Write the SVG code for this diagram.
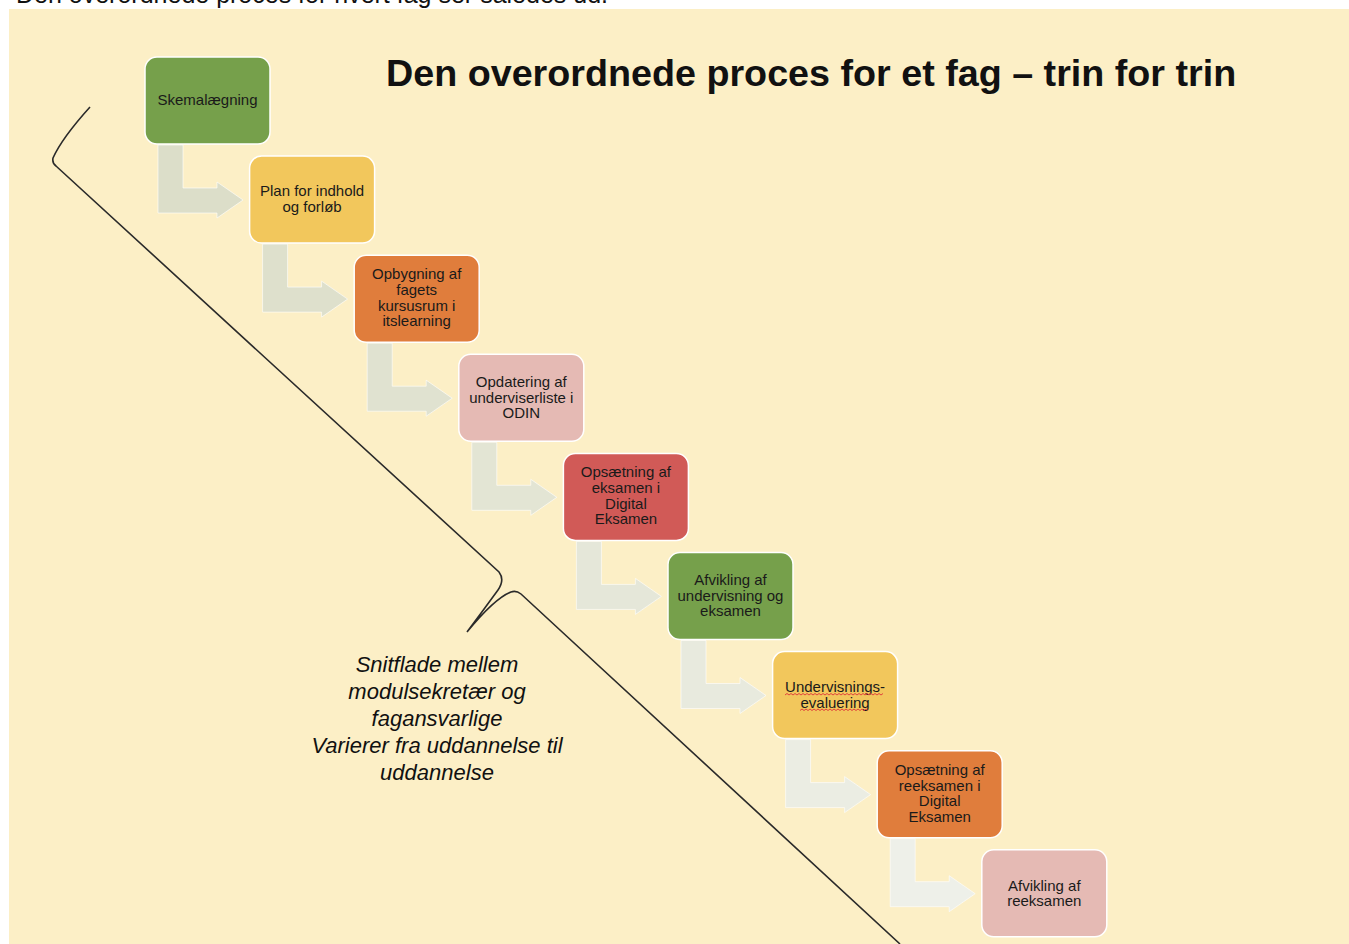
<svg xmlns="http://www.w3.org/2000/svg" width="1349" height="944" viewBox="0 0 1349 944">
<style>
.box{stroke:#ffffff;stroke-width:1.5}
.green{fill:#76A04B}.yellow{fill:#F2C75C}.orange{fill:#E07D3C}.pink{fill:#E5BAB4}.red{fill:#D15A57}
.lbl{font-family:"Liberation Sans",Arial,sans-serif;font-size:15px;fill:#1a1a1a;text-anchor:middle}
.arrow{stroke:#ffffff;stroke-width:1;stroke-opacity:0.6}
.note{font-family:"Liberation Sans",Arial,sans-serif;font-size:22px;font-style:italic;fill:#111;text-anchor:middle}
.squig{fill:none;stroke:#E0443C;stroke-width:1}
</style>
<rect x="0" y="0" width="1349" height="944" fill="#ffffff"/>
<text x="16" y="3" font-family="Liberation Sans, Arial, sans-serif" font-size="25" fill="#111">Den overordnede proces for hvert fag ser således ud.</text>
<rect x="9" y="9" width="1340" height="935" fill="#FCEFC6"/>
<text x="386" y="86" font-family="Liberation Sans, Arial, sans-serif" font-size="37.7" font-weight="bold" fill="#111">Den overordnede proces for et fag – trin for trin</text>

<g id="connectors">
<polygon class="arrow" fill="#DCDEC9" points="158,145 183,145 183,188 217,188 217,182 243,200 217,218 217,213 158,213"/>
<polygon class="arrow" fill="#DEE0CC" points="262.6,244.1 287.6,244.1 287.6,287.1 321.6,287.1 321.6,281.1 347.6,299.1 321.6,317.1 321.6,312.1 262.6,312.1"/>
<polygon class="arrow" fill="#E0E2D0" points="367.2,343.2 392.2,343.2 392.2,386.2 426.2,386.2 426.2,380.2 452.2,398.2 426.2,416.2 426.2,411.2 367.2,411.2"/>
<polygon class="arrow" fill="#E3E5D4" points="471.8,442.3 496.8,442.3 496.8,485.3 530.8,485.3 530.8,479.3 556.8,497.3 530.8,515.3 530.8,510.3 471.8,510.3"/>
<polygon class="arrow" fill="#E5E7D9" points="576.4,541.4 601.4,541.4 601.4,584.4 635.4,584.4 635.4,578.4 661.4,596.4 635.4,614.4 635.4,609.4 576.4,609.4"/>
<polygon class="arrow" fill="#E8EADE" points="681,640.5 706,640.5 706,683.5 740,683.5 740,677.5 766,695.5 740,713.5 740,708.5 681,708.5"/>
<polygon class="arrow" fill="#EBEDE3" points="785.6,739.6 810.6,739.6 810.6,782.6 844.6,782.6 844.6,776.6 870.6,794.6 844.6,812.6 844.6,807.6 785.6,807.6"/>
<polygon class="arrow" fill="#EEF0E9" points="890.2,838.7 915.2,838.7 915.2,881.7 949.2,881.7 949.2,875.7 975.2,893.7 949.2,911.7 949.2,906.7 890.2,906.7"/>
</g>

<path id="brace" d="M90,107 Q62,138 53,158 Q52,163 56,166 L499,572 Q505,580 498,590 Q482,612 467,632 Q495,598 511,592 Q516,590 521,594 L900,944" fill="none" stroke="#2a2a2a" stroke-width="1.6"/>

<g id="n1"><rect class="box green" x="145" y="57" width="125" height="87" rx="12"/><text class="lbl" x="207.5" y="105">Skemalægning</text></g>
<g id="n2"><rect class="box yellow" x="249.6" y="156.1" width="125" height="87" rx="12"/><text class="lbl" x="312.1" y="196">Plan for indhold</text><text class="lbl" x="312.1" y="212">og forløb</text></g>
<g id="n3"><rect class="box orange" x="354.2" y="255.2" width="125" height="87" rx="12"/><text class="lbl" x="416.7" y="279">Opbygning af</text><text class="lbl" x="416.7" y="295">fagets</text><text class="lbl" x="416.7" y="310.5">kursusrum i</text><text class="lbl" x="416.7" y="326">itslearning</text></g>
<g id="n4"><rect class="box pink" x="458.8" y="354.3" width="125" height="87" rx="12"/><text class="lbl" x="521.3" y="387">Opdatering af</text><text class="lbl" x="521.3" y="402.5">underviserliste i</text><text class="lbl" x="521.3" y="418">ODIN</text></g>
<g id="n5"><rect class="box red" x="563.4" y="453.4" width="125" height="87" rx="12"/><text class="lbl" x="625.9" y="477">Opsætning af</text><text class="lbl" x="625.9" y="493">eksamen i</text><text class="lbl" x="625.9" y="508.5">Digital</text><text class="lbl" x="625.9" y="524">Eksamen</text></g>
<g id="n6"><rect class="box green" x="668" y="552.5" width="125" height="87" rx="12"/><text class="lbl" x="730.5" y="585">Afvikling af</text><text class="lbl" x="730.5" y="600.5">undervisning og</text><text class="lbl" x="730.5" y="616">eksamen</text></g>
<g id="n7"><rect class="box yellow" x="772.6" y="651.6" width="125" height="87" rx="12"/><text class="lbl" x="835.1" y="692">Undervisnings-</text><text class="lbl" x="835.1" y="707.5">evaluering</text>
<path class="squig" d="M785,695 l2,-1.5 l2,1.5 l2,-1.5 l2,1.5 l2,-1.5 l2,1.5 l2,-1.5 l2,1.5 l2,-1.5 l2,1.5 l2,-1.5 l2,1.5 l2,-1.5 l2,1.5 l2,-1.5 l2,1.5 l2,-1.5 l2,1.5 l2,-1.5 l2,1.5 l2,-1.5 l2,1.5 l2,-1.5 l2,1.5 l2,-1.5 l2,1.5 l2,-1.5 l2,1.5 l2,-1.5 l2,1.5 l2,-1.5 l2,1.5 l2,-1.5 l2,1.5 l2,-1.5 l2,1.5 l2,-1.5 l2,1.5 l2,-1.5 l2,1.5 l2,-1.5 l2,1.5 l2,-1.5 l2,1.5 l2,-1.5 l2,1.5 l2,-1.5 l2,1.5 l2,-1.5"/>
<path class="squig" d="M800,710.5 l2,-1.5 l2,1.5 l2,-1.5 l2,1.5 l2,-1.5 l2,1.5 l2,-1.5 l2,1.5 l2,-1.5 l2,1.5 l2,-1.5 l2,1.5 l2,-1.5 l2,1.5 l2,-1.5 l2,1.5 l2,-1.5 l2,1.5 l2,-1.5 l2,1.5 l2,-1.5 l2,1.5 l2,-1.5 l2,1.5 l2,-1.5 l2,1.5 l2,-1.5 l2,1.5 l2,-1.5 l2,1.5 l2,-1.5 l2,1.5 l2,-1.5 l2,1.5"/></g>
<g id="n8"><rect class="box orange" x="877.2" y="750.7" width="125" height="87" rx="12"/><text class="lbl" x="939.7" y="775">Opsætning af</text><text class="lbl" x="939.7" y="790.5">reeksamen i</text><text class="lbl" x="939.7" y="806">Digital</text><text class="lbl" x="939.7" y="821.5">Eksamen</text></g>
<g id="n9"><rect class="box pink" x="981.8" y="849.8" width="125" height="87" rx="12"/><text class="lbl" x="1044.3" y="890.5">Afvikling af</text><text class="lbl" x="1044.3" y="906">reeksamen</text></g>

<g id="note">
<text class="note" x="437" y="672">Snitflade mellem</text>
<text class="note" x="437" y="699">modulsekretær og</text>
<text class="note" x="437" y="726">fagansvarlige</text>
<text class="note" x="437" y="753">Varierer fra uddannelse til</text>
<text class="note" x="437" y="780">uddannelse</text>
</g>
</svg>
